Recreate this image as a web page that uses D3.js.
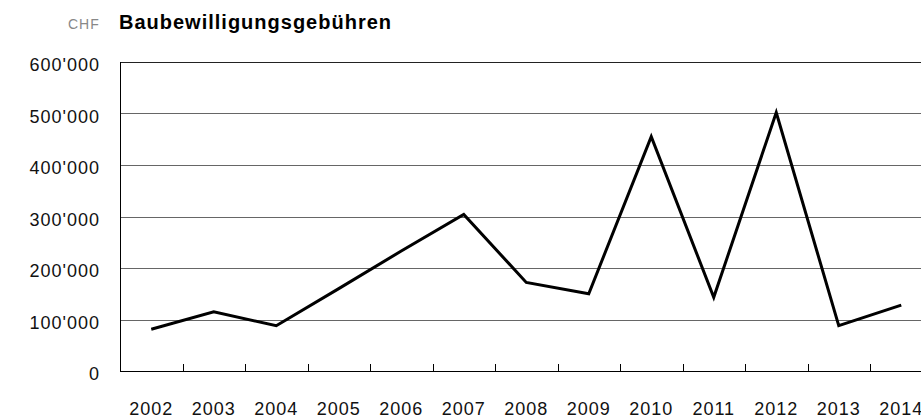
<!DOCTYPE html>
<html>
<head>
<meta charset="utf-8">
<script src="https://cdn.jsdelivr.net/npm/d3@7"></script>
<style>
  body { margin: 0; background: #fff; }
  svg text { font-family: "Liberation Sans", Arial, sans-serif; }
</style>
</head>
<body>
<div id="chart"></div>
<script>
// data
var years = ["2002", "2003", "2004", "2005", "2006", "2007", "2008",
             "2009", "2010", "2011", "2012", "2013", "2014"];
var fees = [81000, 115000, 88000, 160000, 233000, 304000, 172000,
            150000, 455000, 143000, 502000, 88000, 128000];
var yTicks = [0, 100000, 200000, 300000, 400000, 500000, 600000];

document.addEventListener('DOMContentLoaded', function() {
  drawChart();
});

function drawChart(){
    var W = 921, H = 419;
    var margin = {top: 62, left: 120, bottom: 48},
        width = 812.5,
        height = H - margin.top - margin.bottom;

    var svg = d3.select("#chart")
        .append("svg")
        .attr("width", W)
        .attr("height", H);

    var g = svg.append("g")
        .attr("transform", "translate(" + margin.left + "," + margin.top + ")");

    var x = d3.scaleBand().domain(years).range([0, width]).padding(0);
    var y = d3.scaleLinear().domain([0, 600000]).range([height, 0]);

    var fmt = function(v) { return d3.format(",")(v).replace(/,/g, "'"); };

    // grid lines
    g.selectAll(".grid")
      .data(yTicks.slice(1))
      .enter().append("line")
      .attr("x1", 0)
      .attr("x2", width)
      .attr("y1", function(d) { return Math.round(y(d)) + 0.5; })
      .attr("y2", function(d) { return Math.round(y(d)) + 0.5; })
      .attr("stroke", function(d) { return d === 600000 ? "#222" : "#666"; })
      .attr("stroke-width", 1);

    // y labels
    g.selectAll(".ylab")
      .data(yTicks)
      .enter().append("text")
      .attr("x", -20)
      .attr("y", function(d) { return y(d) + 9; })
      .attr("text-anchor", "end")
      .style("font-size", "18px")
      .style("letter-spacing", "1px")
      .attr("fill", "#111")
      .text(fmt);

    // axis lines
    g.append("line")
      .attr("x1", 0.5).attr("x2", 0.5)
      .attr("y1", 0).attr("y2", height)
      .attr("stroke", "#000");
    g.append("line")
      .attr("x1", 0).attr("x2", width)
      .attr("y1", Math.round(height) + 0.5).attr("y2", Math.round(height) + 0.5)
      .attr("stroke", "#000");

    // ticks at band boundaries
    g.selectAll(".tick")
      .data(years.slice(1))
      .enter().append("line")
      .attr("x1", function(d) { return Math.round(x(d)) + 0.5; })
      .attr("x2", function(d) { return Math.round(x(d)) + 0.5; })
      .attr("y1", height - 7)
      .attr("y2", height)
      .attr("stroke", "#000");

    // x labels
    g.selectAll(".xlab")
      .data(years)
      .enter().append("text")
      .attr("x", function(d) { return x(d) + x.bandwidth() / 2; })
      .attr("y", height + 44)
      .attr("text-anchor", "middle")
      .style("font-size", "18px")
      .style("letter-spacing", "1px")
      .attr("fill", "#111")
      .text(function(d) { return d; });

    // the line
    var valueline = d3.line()
      .x(function(d, i) { return x(years[i]) + x.bandwidth() / 2; })
      .y(function(d) { return y(d); });

    g.append("path")
      .datum(fees)
      .attr("fill", "none")
      .attr("stroke", "#000")
      .attr("stroke-width", 3)
      .attr("stroke-linejoin", "miter")
      .attr("d", valueline);

    // title
    svg.append("text")
      .attr("x", 68)
      .attr("y", 29)
      .style("font-size", "14px")
      .style("letter-spacing", "1px")
      .attr("fill", "#888")
      .text("CHF");

    svg.append("text")
      .attr("x", 119)
      .attr("y", 29)
      .style("font-size", "20px")
      .style("font-weight", "bold")
      .style("letter-spacing", "1px")
      .attr("fill", "#000")
      .text("Baubewilligungsgebühren");
}
</script>
</body>
</html>
